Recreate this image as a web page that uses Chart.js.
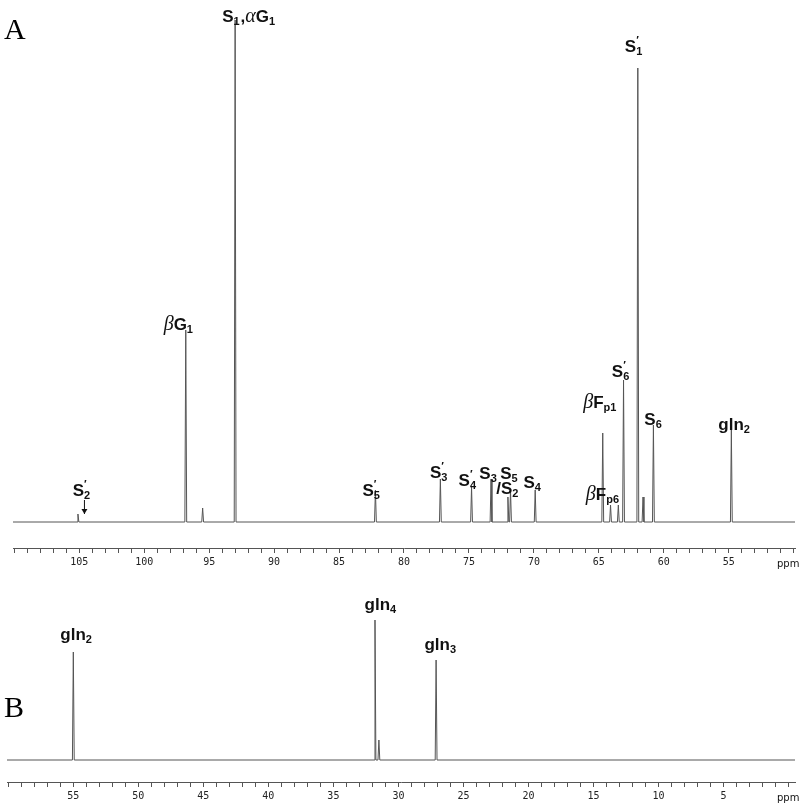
<!DOCTYPE html>
<html><head><meta charset="utf-8">
<script src="https://cdn.jsdelivr.net/npm/chart.js@4"></script>
<style>body{margin:0;background:#fff;width:800px;height:810px;position:relative;overflow:hidden}
#wa{position:absolute;left:0;top:0;width:800px;height:571px}
#wb{position:absolute;left:0;top:580px;width:800px;height:225px}
.pl{position:absolute;font-family:"Liberation Serif",serif;font-size:30px;left:4px}
</style></head><body>
<div id="wa"><canvas id="ca"></canvas></div>
<div id="wb"><canvas id="cb"></canvas></div>
<div class="pl" style="top:12px">A</div>
<div class="pl" style="top:690px">B</div>
<script>
// Panel A peaks: chemical shift (ppm) and height
const peaksA_ppm = [105.1, 96.8, 95.5, 93.0, 82.2, 77.2, 74.8, 73.3, 72.0, 71.8, 69.9, 64.7, 64.1, 63.5, 63.1, 62.0, 61.6, 60.8, 54.8];
const peaksA_h   = [8, 192, 14, 502, 32, 43, 35, 43, 25, 32, 32, 89, 17, 17, 142, 454, 25, 97, 92];
// Panel B peaks
const peaksB_ppm = [55.0, 31.8, 31.5, 27.1];
const peaksB_h   = [108, 140, 20, 100];
// Tick labels
const ticksA = [105, 100, 95, 90, 85, 80, 75, 70, 65, 60, 55];
const ticksB = [55, 50, 45, 40, 35, 30, 25, 20, 15, 10, 5];
// Labels: text tokens, anchor ppm, anchor height
const labelsA = [
 {t:[['S'],['1','sub'],[','],['α','gr'],['G'],['1','sub']], ppm:94.0, y:500},
 {t:[['β','gr'],['G'],['1','sub']], ppm:98.5, y:192},
 {t:[['S'],['1','psub']], ppm:63.0, y:470},
 {t:[['S'],['6','psub']], ppm:64.0, y:145},
 {t:[['β','gr'],['F'],['p1','sub']], ppm:66.2, y:114},
 {t:[['S'],['6','sub']], ppm:61.5, y:97},
 {t:[['gln'],['2','sub']], ppm:55.8, y:92},
 {t:[['S'],['2','psub']], ppm:105.5, y:26},
 {t:[['S'],['5','psub']], ppm:83.2, y:26},
 {t:[['S'],['3','psub']], ppm:78.0, y:44},
 {t:[['S'],['4','psub']], ppm:75.8, y:36},
 {t:[['S'],['3','sub']], ppm:74.2, y:43},
 {t:[['S'],['5','sub']], ppm:72.6, y:43},
 {t:[['/'],['S'],['2','sub']], ppm:72.9, y:28},
 {t:[['S'],['4','sub']], ppm:70.8, y:34},
 {t:[['β','gr'],['F'],['p6','sub']], ppm:66.0, y:22}
];
const labelsB = [
 {t:[['gln'],['2','sub']], ppm:56.0, y:120},
 {t:[['gln'],['4','sub']], ppm:32.6, y:150},
 {t:[['gln'],['3','sub']], ppm:28.0, y:110}
];

function buildData(ppm, h, lo, hi){
  const pts=[{x:hi,y:0}];
  const idx=ppm.map((p,i)=>i).sort((a,b)=>ppm[b]-ppm[a]);
  for(const i of idx){
    pts.push({x:ppm[i]+0.07,y:0},{x:ppm[i],y:h[i]},{x:ppm[i]-0.07,y:0});
  }
  pts.push({x:lo,y:0});
  return pts;
}
function drawTokens(ctx,tokens,x,y){
  for(const [s,k] of tokens){
    if(k==='sub'){ctx.font='bold 11px "Liberation Sans",Arial';ctx.fillText(s,x,y+3);x+=ctx.measureText(s).width+1;}
    else if(k==='psub'){ctx.font='bold 11px "Liberation Sans",Arial';ctx.fillText('′',x,y-8);ctx.fillText(s,x,y+3);x+=ctx.measureText(s).width+1;}
    else if(k==='gr'){ctx.font='italic 20px "Liberation Serif",serif';ctx.fillText(s,x,y);x+=ctx.measureText(s).width;}
    else {ctx.font='bold 17px "Liberation Sans",Arial';ctx.fillText(s,x,y);x+=ctx.measureText(s).width;}
  }
}
function labelPlugin(labels, arrow){
  return {id:'lbl',afterDraw(ch){
    const ctx=ch.ctx,xs=ch.scales.x,ys=ch.scales.y;
    ctx.save();ctx.fillStyle='#111';ctx.textBaseline='alphabetic';
    for(const l of labels) drawTokens(ctx,l.t,xs.getPixelForValue(l.ppm),ys.getPixelForValue(l.y));
    ctx.font='10px "DejaVu Sans"';ctx.fillText('ppm',ch.chartArea.right-18,ys.bottom+19);
    if(arrow){const ax=xs.getPixelForValue(arrow.ppm),y1=ys.getPixelForValue(arrow.y1),y2=ys.getPixelForValue(arrow.y2);
      ctx.strokeStyle='#111';ctx.lineWidth=1;ctx.beginPath();ctx.moveTo(ax,y1);ctx.lineTo(ax,y2);ctx.stroke();
      ctx.beginPath();ctx.moveTo(ax-3,y2-5);ctx.lineTo(ax,y2);ctx.lineTo(ax+3,y2-5);ctx.fill();}
    ctx.restore();}};
}
function makeChart(id, data, lo, hi, ymin, ymax, tickList, labels, arrow, padL){
  return new Chart(document.getElementById(id),{type:'line',
    data:{datasets:[{data:data,borderColor:'#555',borderWidth:1,pointRadius:0,tension:0}]},
    options:{responsive:true,maintainAspectRatio:false,animation:false,
      layout:{padding:{left:padL,right:5,top:20,bottom:0}},
      plugins:{legend:{display:false},tooltip:{enabled:false}},
      scales:{x:{type:'linear',reverse:true,min:lo,max:hi,
        border:{color:'#555'},
        grid:{drawOnChartArea:false,tickLength:5,color:'#555'},
        afterBuildTicks(ax){const t=[];for(let v=Math.ceil(lo);v<=Math.floor(hi);v++)t.push({value:v});ax.ticks=t;},
        ticks:{autoSkip:false,maxRotation:0,font:{family:'DejaVu Sans Mono',size:10},color:'#222',
          callback:(v)=>tickList.includes(v)?String(v):''}},
        y:{display:false,min:ymin,max:ymax}}},
    plugins:[labelPlugin(labels,arrow)]});
}
makeChart('ca', buildData(peaksA_ppm,peaksA_h,49.9,110.1), 49.9, 110.1, -26, 502, ticksA, labelsA, {ppm:104.6,y1:22,y2:8}, 13);
makeChart('cb', buildData(peaksB_ppm,peaksB_h,-0.5,60.1), -0.5, 60.1, -22, 160, ticksB, labelsB, null, 7);
</script></body></html>
